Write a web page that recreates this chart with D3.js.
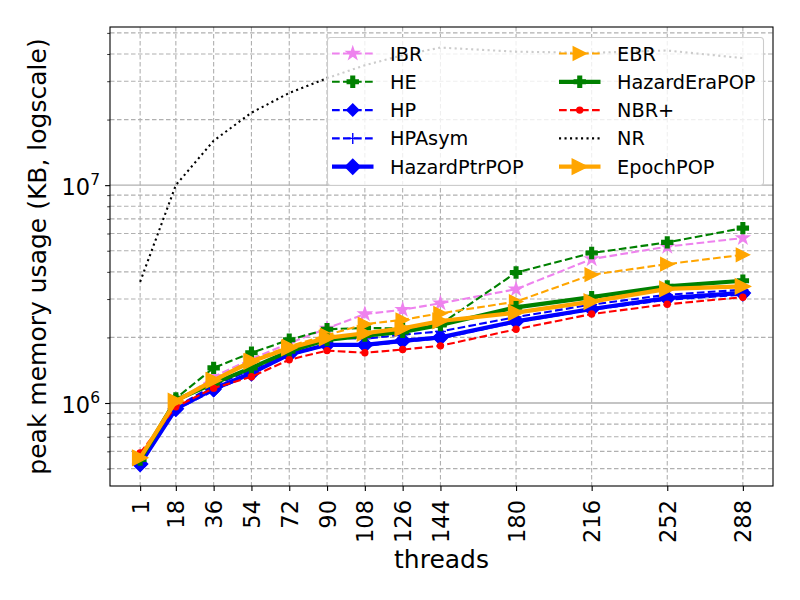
<!DOCTYPE html>
<html>
<head>
<meta charset="utf-8">
<script src="https://cdn.jsdelivr.net/npm/d3@7"></script>
<style>
  body { margin: 0; background: #fff; }
  svg { font-family: "DejaVu Sans", sans-serif; }
</style>
</head>
<body>
<div id="chart"></div>
<script>
// thread counts on the x axis
var threads = [1, 18, 36, 54, 72, 90, 108, 126, 144, 180, 216, 252, 288];

// peak memory usage in KB
var IBR          = [5.6e5, 1.00e6, 1.32e6, 1.59e6, 1.88e6, 2.20e6, 2.56e6, 2.68e6, 2.87e6, 3.33e6, 4.58e6, 5.22e6, 5.72e6];
var HE           = [5.5e5, 1.05e6, 1.45e6, 1.70e6, 1.95e6, 2.18e6, 2.21e6, 2.20e6, 2.30e6, 3.97e6, 4.88e6, 5.46e6, 6.35e6];
var HP           = [5.2e5, 0.93e6, 1.14e6, 1.36e6, 1.66e6, 1.84e6, 1.83e6, 1.91e6, 1.98e6, 2.35e6, 2.68e6, 2.98e6, 3.14e6];
var HPAsym       = [5.4e5, 0.96e6, 1.20e6, 1.42e6, 1.72e6, 2.00e6, 1.97e6, 2.06e6, 2.13e6, 2.48e6, 2.83e6, 3.14e6, 3.31e6];
var HazardPtrPOP = [5.25e5, 0.94e6, 1.16e6, 1.37e6, 1.67e6, 1.85e6, 1.85e6, 1.93e6, 2.00e6, 2.37e6, 2.70e6, 3.03e6, 3.20e6];
var EBR          = [5.6e5, 1.00e6, 1.28e6, 1.57e6, 1.82e6, 2.05e6, 2.30e6, 2.41e6, 2.58e6, 2.92e6, 3.88e6, 4.34e6, 4.79e6];
var HazardEraPOP = [5.5e5, 1.03e6, 1.23e6, 1.45e6, 1.73e6, 1.95e6, 2.04e6, 2.12e6, 2.28e6, 2.75e6, 3.06e6, 3.43e6, 3.64e6];
var NBRplus      = [5.9e5, 0.96e6, 1.17e6, 1.32e6, 1.58e6, 1.74e6, 1.70e6, 1.76e6, 1.83e6, 2.18e6, 2.56e6, 2.84e6, 3.06e6];
var NR           = [3.6e6, 1.00e7, 1.60e7, 2.15e7, 2.65e7, 3.10e7, 3.55e7, 3.95e7, 4.28e7, 4.10e7, 4.05e7, 4.15e7, 3.83e7];
var EpochPOP     = [5.6e5, 1.02e6, 1.27e6, 1.55e6, 1.79e6, 1.99e6, 2.09e6, 2.20e6, 2.38e6, 2.60e6, 2.92e6, 3.34e6, 3.43e6];

var yMajorTicks = [1e6, 1e7];

// draw order = legend order (2 columns, filled column by column)
var series = [
    { name: "IBR",          values: IBR,          color: "violet", dash: true,  marker: "star",    ms: 6.5 },
    { name: "HE",           values: HE,           color: "green",  dash: true,  marker: "pfill",   ms: 11 },
    { name: "HP",           values: HP,           color: "blue",   dash: true,  marker: "diamond", ms: 6 },
    { name: "HPAsym",       values: HPAsym,       color: "blue",   dash: true,  marker: "plus",    ms: 5.5 },
    { name: "HazardPtrPOP", values: HazardPtrPOP, color: "blue",   dash: false, marker: "diamond", ms: 7.5 },
    { name: "EBR",          values: EBR,          color: "orange", dash: true,  marker: "tri",     ms: 6.5 },
    { name: "HazardEraPOP", values: HazardEraPOP, color: "green",  dash: false, marker: "pfill",   ms: 11 },
    { name: "NBR+",         values: NBRplus,      color: "red",    dash: true,  marker: "dot",     ms: 3 },
    { name: "NR",           values: NR,           color: "black",  dot: true,   marker: null,      ms: 0 },
    { name: "EpochPOP",     values: EpochPOP,     color: "orange", dash: false, marker: "tri",     ms: 7.5 }
];

var width = 800, height = 600;
var margin = { top: 27, right: 27, bottom: 114, left: 110 };
var plotW = width - margin.left - margin.right;
var plotH = height - margin.top - margin.bottom;

var svg = d3.select("#chart").append("svg").attr("width", width).attr("height", height);
var g = svg.append("g").attr("transform", "translate(" + margin.left + "," + margin.top + ")");

// matplotlib style 5% margins
var x = d3.scaleLinear().domain([-13.35, 302.35]).range([0, plotW]);
var y = d3.scaleLog().domain([Math.pow(10, 5.619), Math.pow(10, 7.726)]).range([plotH, 0]);

var minorTicks = [];
[1e5, 1e6, 1e7].forEach(function (d) {
    for (var k = 2; k <= 9; k++) {
        var v = d * k;
        if (v > y.domain()[0] && v < y.domain()[1]) minorTicks.push(v);
    }
});

var gridColor = "#b0b0b0";

// grid
var grid = g.append("g");
grid.selectAll(".gx").data(threads).enter().append("line")
    .attr("x1", function (d) { return x(d); }).attr("x2", function (d) { return x(d); })
    .attr("y1", 0).attr("y2", plotH)
    .attr("stroke", gridColor).attr("stroke-width", 1.1).attr("stroke-dasharray", "4.5,2.5");
grid.selectAll(".gym").data(minorTicks).enter().append("line")
    .attr("x1", 0).attr("x2", plotW)
    .attr("y1", function (d) { return y(d); }).attr("y2", function (d) { return y(d); })
    .attr("stroke", gridColor).attr("stroke-width", 1.1).attr("stroke-dasharray", "4.5,2.5");
grid.selectAll(".gyM").data(yMajorTicks).enter().append("line")
    .attr("x1", 0).attr("x2", plotW)
    .attr("y1", function (d) { return y(d); }).attr("y2", function (d) { return y(d); })
    .attr("stroke", gridColor).attr("stroke-width", 1.3);

function markerPath(type, s) {
    var p;
    if (type === "diamond") {
        return "M0," + (-s) + "L" + s + ",0L0," + s + "L" + (-s) + ",0Z";
    }
    if (type === "tri") {
        return "M" + s + ",0L" + (-s) + "," + (-s) + "L" + (-s) + "," + s + "Z";
    }
    if (type === "pfill") {
        var h = s / 2, t = s / 6;
        p = [[-t, -h], [t, -h], [t, -t], [h, -t], [h, t], [t, t], [t, h], [-t, h], [-t, t], [-h, t], [-h, -t], [-t, -t]];
        return "M" + p.map(function (q) { return q.join(","); }).join("L") + "Z";
    }
    if (type === "star") {
        p = [];
        for (var i = 0; i < 10; i++) {
            var r = i % 2 === 0 ? s : s * 0.382;
            var a = -Math.PI / 2 + i * Math.PI / 5;
            p.push([r * Math.cos(a), r * Math.sin(a)]);
        }
        return "M" + p.map(function (q) { return q.join(","); }).join("L") + "Z";
    }
    if (type === "plus") {
        return "M" + (-s) + ",0L" + s + ",0M0," + (-s) + "L0," + s;
    }
    if (type === "dot") {
        return "M" + s + ",0A" + s + "," + s + " 0 1,1 " + (-s) + ",0A" + s + "," + s + " 0 1,1 " + s + ",0Z";
    }
    return "";
}

function styleLine(sel, s) {
    sel.attr("fill", "none").attr("stroke", s.color);
    if (s.dot) {
        sel.attr("stroke-width", 2.1).attr("stroke-dasharray", "2.1,3.4");
    } else if (s.dash) {
        sel.attr("stroke-width", 2.1).attr("stroke-dasharray", "7.7,3.3");
    } else {
        sel.attr("stroke-width", 4.2);
    }
    return sel;
}

function styleMarker(sel, s) {
    if (s.marker === "plus") {
        sel.attr("fill", "none").attr("stroke", s.color).attr("stroke-width", 1.4);
    } else {
        sel.attr("fill", s.color).attr("stroke", s.color).attr("stroke-width", 1.4).attr("stroke-linejoin", "miter");
    }
    return sel;
}

var line = d3.line()
    .x(function (d) { return x(d.t); })
    .y(function (d) { return y(d.v); });

series.forEach(function (s) {
    var pts = threads.map(function (t, i) { return { t: t, v: s.values[i] }; });
    var sg = g.append("g");
    styleLine(sg.append("path").datum(pts).attr("d", line), s);
    if (s.marker) {
        styleMarker(sg.selectAll("path.m").data(pts).enter().append("path")
            .attr("class", "m")
            .attr("transform", function (d) { return "translate(" + x(d.t) + "," + y(d.v) + ")"; })
            .attr("d", markerPath(s.marker, s.ms)), s);
    }
});

// axes
var xAxis = d3.axisBottom(x).tickValues(threads).tickSize(4.9).tickSizeOuter(0).tickFormat(d3.format("d"));
var gx = g.append("g").attr("transform", "translate(0," + plotH + ")").call(xAxis);
gx.select(".domain").remove();
gx.selectAll("line").attr("stroke", "#000").attr("stroke-width", 1.1);
gx.selectAll("text")
    .attr("font-size", 22.5).attr("font-family", "DejaVu Sans").attr("fill", "#000")
    .attr("transform", "rotate(-90)")
    .attr("x", -14).attr("y", 0).attr("dy", "0.36em")
    .style("text-anchor", "end");

var gyMinor = g.append("g").call(d3.axisLeft(y).tickValues(minorTicks).tickSize(2.8).tickFormat(""));
gyMinor.select(".domain").remove();
gyMinor.selectAll("line").attr("stroke", "#000").attr("stroke-width", 0.8);

var gy = g.append("g").call(d3.axisLeft(y).tickValues(yMajorTicks).tickSize(4.9).tickFormat(""));
gy.select(".domain").remove();
gy.selectAll("line").attr("stroke", "#000").attr("stroke-width", 1.1);
gy.selectAll(".tick").each(function (d) {
    var t = d3.select(this).append("text")
        .attr("x", -10).attr("y", 9.7)
        .attr("font-size", 22.5).attr("font-family", "DejaVu Sans").attr("fill", "#000")
        .style("text-anchor", "end");
    t.append("tspan").text("10");
    t.append("tspan").attr("dy", -10).attr("font-size", 15.5).text(Math.round(Math.log10(d)));
});

// frame
g.append("rect").attr("width", plotW).attr("height", plotH)
    .attr("fill", "none").attr("stroke", "#000").attr("stroke-width", 1.1);

// axis labels
svg.append("text").attr("x", margin.left + plotW / 2).attr("y", 568)
    .attr("text-anchor", "middle").attr("font-size", 25).text("threads");
svg.append("text")
    .attr("transform", "translate(46," + (margin.top + plotH / 2) + ") rotate(-90)")
    .attr("text-anchor", "middle").attr("font-size", 25)
    .text("peak memory usage (KB, logscale)");

// legend
var leg = svg.append("g");
leg.append("rect").attr("x", 327.5).attr("y", 37.5).attr("width", 436).attr("height", 148)
    .attr("rx", 3).attr("fill", "#fff").attr("fill-opacity", 0.8)
    .attr("stroke", "#cccccc").attr("stroke-width", 1.1);
var colX = [332, 559], rowY0 = 53.5, rowStep = 28.3, handleLen = 41.5;
series.forEach(function (s, i) {
    var col = Math.floor(i / 5), row = i % 5;
    var lx = colX[col], ly = rowY0 + row * rowStep;
    var e = leg.append("g");
    styleLine(e.append("line").attr("x1", lx).attr("x2", lx + handleLen).attr("y1", ly).attr("y2", ly), s);
    if (s.marker) {
        styleMarker(e.append("path")
            .attr("transform", "translate(" + (lx + handleLen / 2) + "," + ly + ")")
            .attr("d", markerPath(s.marker, s.ms)), s);
    }
    e.append("text").attr("x", lx + 58).attr("y", ly + 7)
        .attr("font-size", 19.3).attr("fill", "#000").text(s.name);
});
</script>
</body>
</html>
